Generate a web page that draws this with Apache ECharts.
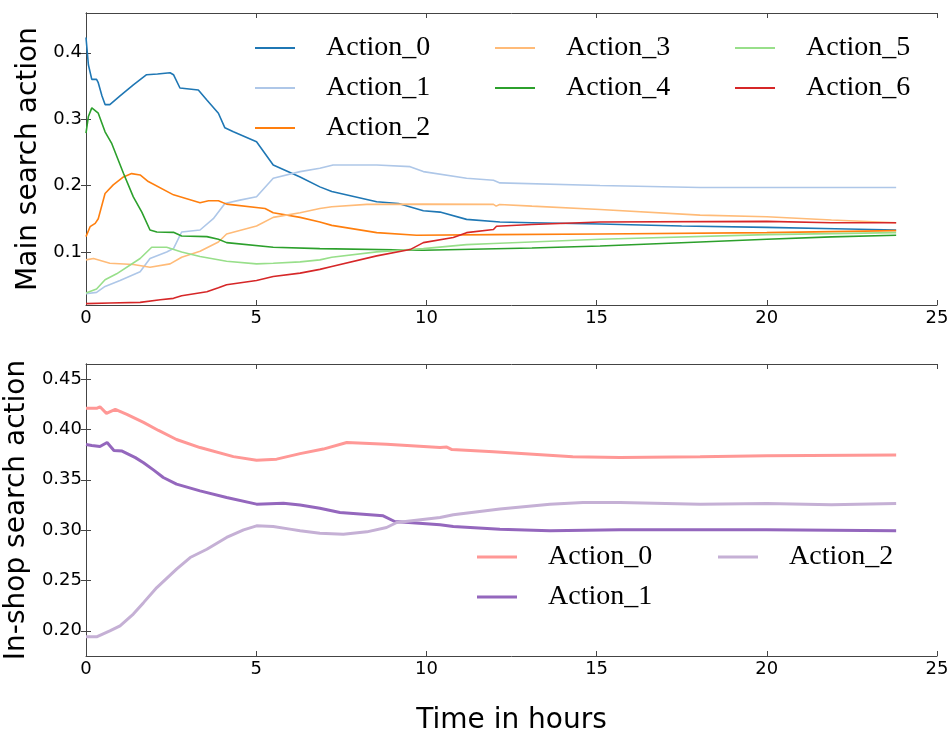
<!DOCTYPE html>
<html>
<head>
<meta charset="utf-8">
<script src="https://cdn.jsdelivr.net/npm/echarts@6/dist/echarts.min.js"></script>
<style>
  html, body { margin: 0; padding: 0; background: #fff; }
  #chart { width: 950px; height: 732px; }
</style>
</head>
<body>
<div id="chart"></div>
<script>
// main search actions, [hour, share]
const main0 = [[0,0.423],[0.07,0.382],[0.17,0.36],[0.31,0.36],[0.36,0.355],[0.47,0.335],[0.56,0.322],[0.7,0.322],[1.0,0.335],[1.4,0.352],[1.78,0.367],[2.1,0.368],[2.47,0.370],[2.57,0.367],[2.76,0.347],[3.3,0.344],[3.55,0.329],[3.89,0.309],[4.08,0.287],[4.33,0.281],[5.01,0.266],[5.5,0.231],[6.29,0.213],[6.87,0.198],[7.22,0.191],[8.54,0.1755],[9.18,0.173],[9.91,0.162],[10.4,0.160],[11.18,0.149],[12.16,0.145],[13.1,0.144],[15.1,0.142],[17.5,0.139],[20,0.137],[22,0.135],[23.8,0.133]];
const main1 = [[0,0.037],[0.31,0.039],[0.56,0.048],[1.0,0.057],[1.59,0.070],[1.88,0.090],[2.37,0.100],[2.57,0.105],[2.81,0.130],[3.35,0.133],[3.74,0.150],[4.08,0.173],[4.52,0.178],[5.01,0.183],[5.5,0.211],[6.29,0.221],[6.87,0.226],[7.26,0.231],[8.54,0.231],[9.52,0.2285],[9.91,0.221],[11.18,0.211],[11.97,0.208],[12.16,0.204],[15.1,0.200],[18.04,0.197],[21,0.197],[23.8,0.197]];
const main2 = [[0,0.123],[0.12,0.138],[0.27,0.143],[0.36,0.150],[0.56,0.188],[0.8,0.201],[1.1,0.213],[1.34,0.218],[1.59,0.216],[1.83,0.206],[2.57,0.186],[3.35,0.174],[3.6,0.177],[3.89,0.177],[4.13,0.172],[5.26,0.1655],[5.5,0.159],[6.29,0.152],[6.87,0.145],[7.22,0.140],[8.54,0.129],[9.71,0.125],[12,0.126],[15.1,0.127],[20,0.129],[23.8,0.132]];
const main3 = [[0,0.088],[0.22,0.090],[0.7,0.083],[1.39,0.081],[1.88,0.077],[2.47,0.082],[2.81,0.092],[3.35,0.101],[3.89,0.115],[4.13,0.127],[5.01,0.139],[5.5,0.152],[6.29,0.159],[6.87,0.1655],[7.22,0.168],[8.25,0.1716],[9.91,0.172],[11.97,0.1716],[12.05,0.169],[12.15,0.1715],[13.1,0.169],[15.1,0.164],[18.04,0.1555],[20,0.153],[21.9,0.148],[23.8,0.144]];
const main4 = [[0,0.279],[0.07,0.304],[0.17,0.317],[0.36,0.309],[0.56,0.281],[0.75,0.264],[1.1,0.2185],[1.39,0.183],[1.64,0.160],[1.88,0.133],[2.08,0.130],[2.57,0.1295],[2.81,0.124],[3.55,0.123],[3.89,0.119],[4.13,0.114],[5.5,0.107],[6.87,0.105],[9.91,0.1025],[13.1,0.106],[15.1,0.109],[18.04,0.115],[20,0.119],[21.9,0.1226],[23.8,0.125]];
const main5 = [[0,0.038],[0.31,0.044],[0.56,0.058],[0.9,0.067],[1.59,0.090],[1.93,0.107],[2.37,0.107],[2.81,0.100],[3.35,0.093],[4.13,0.086],[5.01,0.082],[5.5,0.083],[6.29,0.085],[6.87,0.088],[7.22,0.092],[8.54,0.100],[9.91,0.105],[11.18,0.111],[11.97,0.1126],[15.1,0.119],[20,0.126],[23.8,0.129]];
const main6 = [[0,0.022],[0.7,0.023],[1.59,0.024],[2.18,0.028],[2.57,0.030],[2.81,0.034],[3.55,0.040],[3.89,0.046],[4.13,0.0505],[5.01,0.057],[5.5,0.063],[6.29,0.068],[6.87,0.0737],[7.22,0.078],[8.54,0.094],[9.52,0.1035],[9.91,0.114],[10.79,0.1216],[11.18,0.129],[11.97,0.1337],[12.06,0.1387],[13.1,0.1413],[15.1,0.145],[20,0.146],[21.9,0.144],[23.8,0.144]];

// in-shop search actions
const shop0 = [[0,0.421],[0.31,0.421],[0.41,0.4225],[0.6,0.416],[0.86,0.420],[1.2,0.415],[1.69,0.407],[2.13,0.399],[2.66,0.390],[3.35,0.382],[4.33,0.373],[5.01,0.3695],[5.6,0.3705],[6.29,0.376],[6.97,0.3805],[7.66,0.387],[8.83,0.3854],[10.4,0.382],[10.6,0.3825],[10.75,0.380],[11.97,0.3778],[14.3,0.3728],[15.69,0.3721],[18.04,0.3728],[20,0.3738],[23.8,0.3745]];
const shop1 = [[0,0.385],[0.17,0.384],[0.41,0.383],[0.62,0.387],[0.82,0.379],[1.06,0.3785],[1.45,0.372],[1.69,0.367],[1.99,0.3596],[2.27,0.3523],[2.66,0.3457],[3.35,0.339],[4.13,0.3324],[5.01,0.3258],[5.8,0.3268],[6.29,0.325],[6.87,0.3218],[7.46,0.3175],[8.73,0.3142],[9.07,0.3086],[10.4,0.3053],[10.79,0.3036],[12.16,0.301],[13.63,0.2993],[15.69,0.3003],[20,0.3003],[23.8,0.2993]];
const shop2 = [[0,0.194],[0.31,0.194],[0.7,0.200],[1.0,0.205],[1.39,0.2166],[1.69,0.228],[2.08,0.243],[2.66,0.2613],[3.06,0.2728],[3.55,0.281],[4.13,0.2927],[4.63,0.3003],[5.01,0.3043],[5.5,0.3036],[5.99,0.301],[6.29,0.2993],[6.87,0.297],[7.56,0.296],[8.25,0.2983],[8.83,0.3026],[9.13,0.3076],[10.4,0.3126],[10.79,0.3152],[12.16,0.3209],[13.63,0.3258],[14.6,0.3274],[15.69,0.3274],[18.04,0.3258],[20,0.3264],[21.9,0.3251],[23.8,0.3264]];

const mainNames = ['Action_0','Action_1','Action_2','Action_3','Action_4','Action_5','Action_6'];
const shopNames = ['Action_0','Action_1','Action_2'];
const mainTicks = [0.1, 0.2, 0.3, 0.4];
const shopTicks = [0.20, 0.25, 0.30, 0.35, 0.40, 0.45];

const mainColors = ['#1f77b4','#aec7e8','#ff7f0e','#ffbb78','#2ca02c','#98df8a','#d62728'];
const shopColors = ['#ff9896','#9467bd','#c5b0d5'];

const frame = { show: true, lineStyle: { color: '#444', width: 1 } };
const tick = { show: true, inside: true, length: 5, lineStyle: { color: '#444' } };
const tickFont = { fontFamily: 'DejaVu Sans', fontSize: 18, color: '#000' };

function xAxes(grid, withName) {
  return [
    { type: 'value', gridIndex: grid, min: 0, max: 25, interval: 5, position: 'bottom',
      axisLine: frame, axisTick: tick, splitLine: { show: false },
      axisLabel: Object.assign({ margin: 4 }, tickFont),
      name: withName ? 'Time in hours' : '', nameLocation: 'middle', nameGap: 51,
      nameTextStyle: { fontFamily: 'DejaVu Sans', fontSize: 28, color: '#000' } },
    { type: 'value', gridIndex: grid, min: 0, max: 25, interval: 5, position: 'top',
      axisLine: frame, axisTick: tick, splitLine: { show: false }, axisLabel: { show: false } }
  ];
}

function yAxes(grid, min, max, ticks, digits, name, gap) {
  return [
    { type: 'value', gridIndex: grid, min: min, max: max, position: 'left',
      axisLine: frame, splitLine: { show: false },
      axisTick: Object.assign({ customValues: ticks }, tick),
      axisLabel: Object.assign({ customValues: ticks, margin: 4,
        formatter: v => v.toFixed(digits) }, tickFont),
      name: name, nameLocation: 'middle', nameGap: gap,
      nameTextStyle: { fontFamily: 'DejaVu Sans', fontSize: 28, color: '#000' } },
    { type: 'value', gridIndex: grid, min: min, max: max, position: 'right',
      axisLine: frame, splitLine: { show: false },
      axisTick: Object.assign({ customValues: ticks }, tick),
      axisLabel: { show: false } }
  ];
}

const mainData = [main0, main1, main2, main3, main4, main5, main6];
const shopData = [shop0, shop1, shop2];

const series = [];
mainData.forEach((d, i) => series.push({
  name: mainNames[i], type: 'line', data: d, xAxisIndex: 0, yAxisIndex: 0,
  symbol: 'none', color: mainColors[i], lineStyle: { width: 1.6, color: mainColors[i] }
}));
shopData.forEach((d, i) => series.push({
  name: shopNames[i] + ' ', type: 'line', data: d, xAxisIndex: 2, yAxisIndex: 2,
  symbol: 'none', color: shopColors[i], lineStyle: { width: 3, color: shopColors[i] }
}));

const legendText = { fontFamily: 'Liberation Serif', fontSize: 28, color: '#000',
  lineHeight: 30, padding: [0, 0, 0, 26] };

function legendCol(names, left, top, thick) {
  return { orient: 'vertical', left: left, top: top, padding: 0, itemGap: 10,
    icon: 'rect', itemWidth: 40, itemHeight: thick, selectedMode: false, data: names,
    textStyle: legendText };
}

const chart = echarts.init(document.getElementById('chart'));
chart.setOption({
  animation: false,
  backgroundColor: '#fff',
  grid: [
    { left: 86, top: 13, width: 851, height: 292, outerBoundsMode: 'none' },
    { left: 86, top: 364, width: 851, height: 292, outerBoundsMode: 'none' }
  ],
  xAxis: xAxes(0, false).concat(xAxes(1, true)),
  yAxis: yAxes(0, 0.02, 0.46, mainTicks, 1, 'Main search action', 31)
    .concat(yAxes(1, 0.175, 0.465, shopTicks, 2, 'In-shop search action', 49)),
  legend: [
    legendCol(mainNames.slice(0, 3), 255, 33, 2),
    legendCol(mainNames.slice(3, 5), 495, 33, 2),
    legendCol(mainNames.slice(5, 7), 735, 33, 2),
    legendCol(shopNames.slice(0, 2).map(n => n + ' '), 477, 542, 3),
    legendCol(shopNames.slice(2, 3).map(n => n + ' '), 718, 542, 3)
  ],
  series: series
});
</script>
</body>
</html>
